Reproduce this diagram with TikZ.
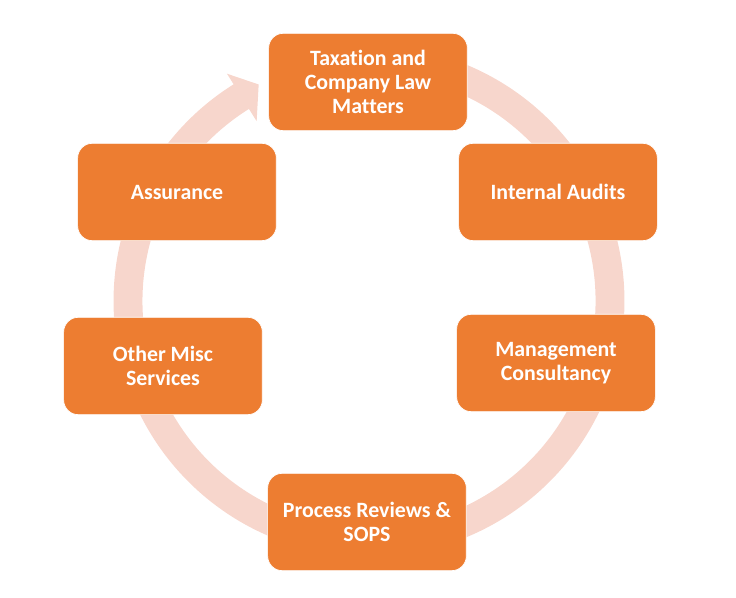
\documentclass[tikz,border=0pt]{standalone}
\usepackage{fontspec}
\setmainfont{Carlito}[Ligatures=NoCommon]
\usepackage{tikz}
\usetikzlibrary{positioning}

\definecolor{boxorange}{RGB}{237,125,49}
\definecolor{ringpink}{RGB}{247,214,204}

\begin{document}
\begin{tikzpicture}[
  x=0.75pt,y=0.75pt,
  svc/.style={rectangle,rounded corners=11pt,draw=white,line width=0.5pt,fill=boxorange,
              minimum width=149pt,minimum height=73pt,
              font=\fontsize{16.4}{18}\selectfont\bfseries,text=white,align=center},
  ring/.style={fill=ringpink,draw=none}
]
  \useasboundingbox (-369,-297) rectangle (367,301);

  % the cycle with its head
  \path[ring] (90:255.5) arc[start angle=90,end angle=-238,radius=191.6pt]
    -- (122:268) -- (117:243) -- (122:212) -- (122:226.5)
    arc[start angle=-238,end angle=90,radius=169.9pt] -- cycle;

  \node[svc] (tax) at (-1,219) {Taxation and\\Company Law\\Matters};
  \node[svc] (audit) at (189,109) {Internal Audits};
  \node[svc] (mgmt) at (187,-62) {Management\\Consultancy};
  \node[svc] (review) at (-2,-221) {Process Reviews \&\\SOPS};
  \node[svc] (misc) at (-206,-65) {Other Misc\\Services};
  \node[svc] (assur) at (-192,109) {Assurance};
\end{tikzpicture}
\end{document}
